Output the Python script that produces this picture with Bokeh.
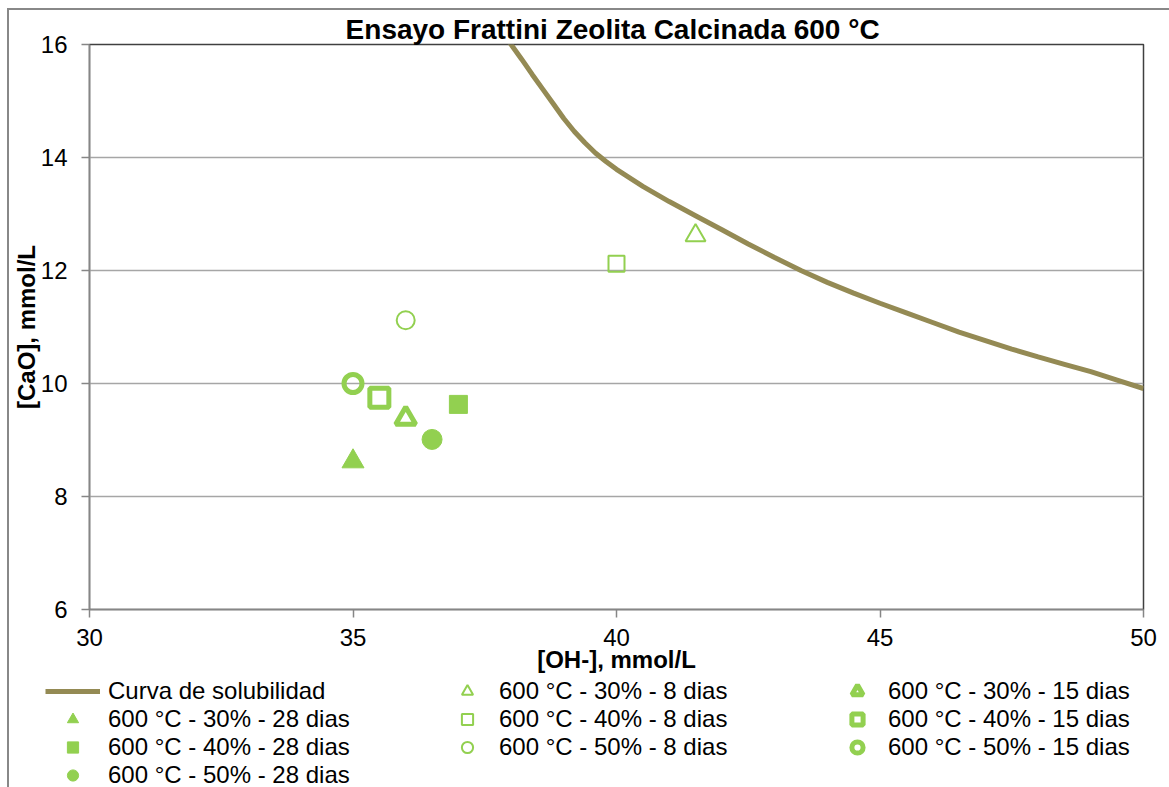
from bokeh.plotting import figure
from bokeh.layouts import column
from bokeh.models import Range1d, SingleIntervalTicker, Legend, LegendItem, InlineStyleSheet
from bokeh.embed import file_html
from bokeh.resources import INLINE

# ---- data ----
curve_x = [37.92, 38.0, 38.2, 38.4, 38.6, 38.8, 39.0, 39.2, 39.4, 39.6, 39.8, 40.0, 40.5, 41.0,
           41.5, 42.0, 42.5, 43.0, 43.5, 44.0, 44.5, 45.0, 45.5, 46.0, 46.5, 47.0, 47.5,
           48.0, 48.5, 49.0, 49.5, 50.0]
curve_y = [16.10, 16.00, 15.74, 15.47, 15.21, 14.95, 14.69, 14.46, 14.26, 14.08, 13.93, 13.79, 13.49, 13.22,
           12.97, 12.72, 12.47, 12.23, 12.00, 11.79, 11.60, 11.42, 11.25, 11.08, 10.91, 10.76, 10.61,
           10.47, 10.34, 10.21, 10.06, 9.91]

series_labels = [
    "600 °C - 30% - 8 dias", "600 °C - 30% - 15 dias", "600 °C - 30% - 28 dias",
    "600 °C - 40% - 8 dias", "600 °C - 40% - 15 dias", "600 °C - 40% - 28 dias",
    "600 °C - 50% - 8 dias", "600 °C - 50% - 15 dias", "600 °C - 50% - 28 dias",
]
series_x = [41.5, 36.0, 35.0, 40.0, 35.5, 37.0, 36.0, 35.0, 36.5]
series_y = [12.62, 9.38, 8.62, 12.12, 9.75, 9.63, 11.12, 10.00, 9.01]

GREEN = "#92D050"
OLIVE = "#948A54"
FONT = "Liberation Sans"

p = figure(width=1169, height=677, output_backend="svg", toolbar_location=None,
           x_range=Range1d(30, 50), y_range=Range1d(6, 16),
           min_border_left=89, min_border_right=26, min_border_top=44, min_border_bottom=68)
p.frame_align = False
p.background_fill_color = "white"
p.border_fill_color = "white"
p.outline_line_color = "#404040"
p.outline_line_width = 1.5

p.title.text = "Ensayo Frattini  Zeolita Calcinada 600 °C"
p.title.align = "center"
p.title.text_font = FONT
p.title.text_font_size = "28px"
p.title.text_font_style = "bold"
p.title.text_color = "black"
p.title.standoff = 0

for ax in (p.xaxis[0], p.yaxis[0]):
    ax.axis_line_color = "#868686"
    ax.axis_line_width = 1.5
    ax.major_tick_line_color = "#868686"
    ax.major_tick_line_width = 1.5
    ax.major_tick_out = 8
    ax.major_tick_in = 0
    ax.minor_tick_line_color = None
    ax.major_label_text_font = FONT
    ax.major_label_text_font_size = "24px"
    ax.major_label_text_color = "black"
    ax.axis_label_text_font = FONT
    ax.axis_label_text_font_size = "24px"
    ax.axis_label_text_font_style = "bold"
    ax.axis_label_text_color = "black"

p.xaxis[0].ticker = SingleIntervalTicker(interval=5)
p.yaxis[0].ticker = SingleIntervalTicker(interval=2)
p.xaxis[0].axis_label = "[OH-], mmol/L"
p.yaxis[0].axis_label = "[CaO], mmol/L"
p.xaxis[0].major_label_standoff = 11
p.xaxis[0].axis_label_standoff = -3
p.yaxis[0].major_label_standoff = 14
p.yaxis[0].axis_label_standoff = -2

p.xgrid.grid_line_color = None
p.ygrid.grid_line_color = "#A6A6A6"
p.ygrid.grid_line_width = 1.5
p.ygrid.ticker = SingleIntervalTicker(interval=2)

p.line(curve_x, curve_y, line_color=OLIVE, line_width=5)

styles = {
    # open thin (8 dias)
    0: dict(marker="triangle", size=20, fill_color=None, line_color=GREEN, line_width=2),
    3: dict(marker="square", size=16, fill_color=None, line_color=GREEN, line_width=2),
    6: dict(marker="circle", size=18, fill_color=None, line_color=GREEN, line_width=2),
    # thick (15 dias)
    1: dict(marker="triangle", size=20, fill_color=None, line_color=GREEN, line_width=5),
    4: dict(marker="square", size=19, fill_color=None, line_color=GREEN, line_width=5),
    7: dict(marker="circle", size=18, fill_color=None, line_color=GREEN, line_width=5),
    # filled (28 dias)
    2: dict(marker="triangle", size=22, fill_color=GREEN, line_color=GREEN, line_width=1),
    5: dict(marker="square", size=18, fill_color=GREEN, line_color=GREEN, line_width=1),
    8: dict(marker="circle", size=20, fill_color=GREEN, line_color=GREEN, line_width=1),
}
for i in range(len(series_labels)):
    p.scatter([series_x[i]], [series_y[i]], **styles[i])

# ---- legend strip below the chart (same series, outside its visible range) ----
LH = 110
q = figure(width=1169, height=LH, output_backend="svg", toolbar_location=None,
           x_range=Range1d(30, 50), y_range=Range1d(0, 1),
           x_axis_type=None, y_axis_type=None,
           min_border_left=0, min_border_right=0, min_border_top=0, min_border_bottom=0)
q.frame_align = False
q.grid.grid_line_color = None
q.outline_line_color = None
q.background_fill_color = "white"
q.border_fill_color = "white"

leg_line = q.line(curve_x, curve_y, line_color=OLIVE, line_width=5)
leg_marks = [q.scatter([series_x[i]], [series_y[i]], **styles[i]) for i in range(len(series_labels))]

def make_legend(items, x, y, gw, standoff):
    lg = Legend(items=items, location=(x, y), orientation="vertical",
                glyph_width=gw, glyph_height=28, label_height=20, spacing=0,
                padding=0, margin=0, label_standoff=standoff,
                border_line_color=None, background_fill_alpha=0,
                label_text_font=FONT, label_text_font_size="24px",
                label_text_color="black")
    q.add_layout(lg, "center")

col1 = [LegendItem(label="Curva de solubilidad", renderers=[leg_line])] + \
       [LegendItem(label=series_labels[i], renderers=[leg_marks[i]]) for i in (2, 5, 8)]
col2 = [LegendItem(label=series_labels[i], renderers=[leg_marks[i]]) for i in (0, 3, 6)]
col3 = [LegendItem(label=series_labels[i], renderers=[leg_marks[i]]) for i in (1, 4, 7)]
make_legend(col1, 45, -2, 55, 8)
make_legend(col2, 453, 26, 28, 18)
make_legend(col3, 843, 26, 28, 17)

layout = column(p, q, spacing=0, stylesheets=[InlineStyleSheet(css="""
:host::after {
  content: ""; position: absolute; left: 7px; top: 8px;
  width: 1162px; height: 779px; box-sizing: border-box;
  border-left: 2px solid #888888; border-top: 2px solid #888888;
  pointer-events: none;
}
""")])

open("out.html", "w").write(file_html(layout, INLINE))
